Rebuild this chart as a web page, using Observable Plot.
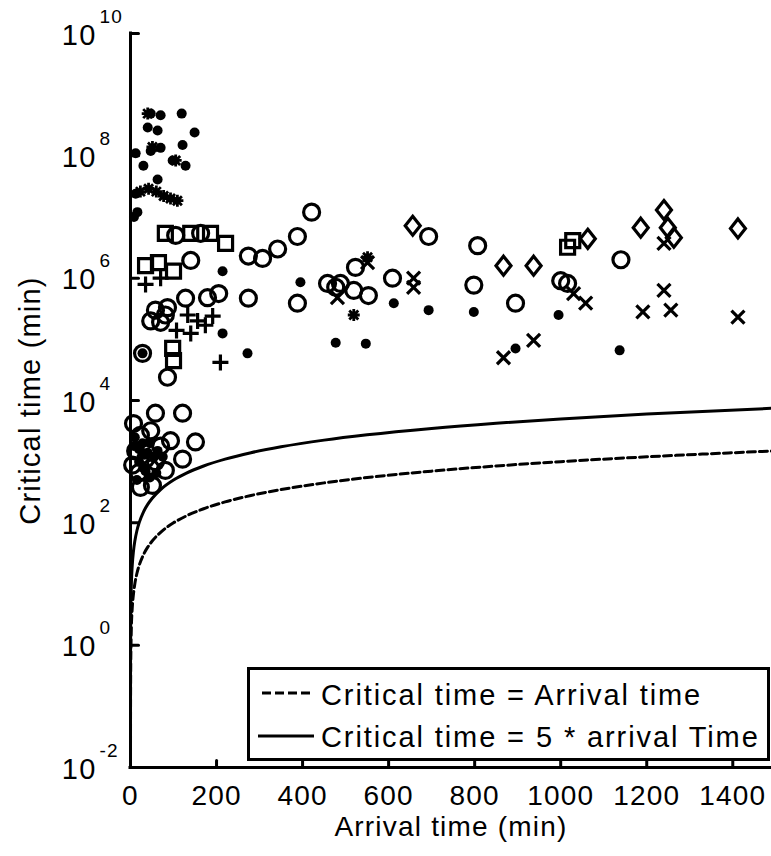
<!DOCTYPE html>
<html><head><meta charset="utf-8">
<script src="https://cdn.jsdelivr.net/npm/d3@7"></script>
<script src="https://cdn.jsdelivr.net/npm/@observablehq/plot@0.6"></script>
<style>
html,body{margin:0;padding:0;background:#fff;overflow:hidden}
#chart{position:relative;width:771px;height:856px}
#chart svg text{letter-spacing:1.2px}
#chart svg g.legend text{letter-spacing:1.9px}
</style></head><body><div id="chart"></div>
<script>
// ---------- data ----------
const xTickValues = [0, 200, 400, 600, 800, 1000, 1200, 1400];
const xTickLabels = ["0", "200", "400", "600", "800", "1000", "1200", "1400"];
const yTickValues = [1e-2, 1e0, 1e2, 1e4, 1e6, 1e8, 1e10];
const yTickBase = ["10", "10", "10", "10", "10", "10", "10"];
const yTickExponents = ["-2", "0", "2", "4", "6", "8", "10"];

const lineArrival = [0.01, 0.1, 0.5, 1, 2, 4, 7, 10, 15, 20, 30, 40, 50, 70, 100, 130, 170, 220, 280, 350, 450, 550, 700, 850, 1000, 1200, 1490];
const critEqual   = [0.01, 0.1, 0.5, 1, 2, 4, 7, 10, 15, 20, 30, 40, 50, 70, 100, 130, 170, 220, 280, 350, 450, 550, 700, 850, 1000, 1200, 1490];
const critFive    = [0.05, 0.5, 2.5, 5, 10, 20, 35, 50, 75, 100, 150, 200, 250, 350, 500, 650, 850, 1100, 1400, 1750, 2250, 2750, 3500, 4250, 5000, 6000, 7450];

const dotX = [47, 70, 119, 40, 63, 149, 121, 47, 70, 12, 30, 98, 128, 63, 16, 12, 8, 214, 214, 272, 395, 477, 547, 612, 693, 798, 895, 995, 1137, 28, 28, 40, 63, 35, 75, 20, 10, 20, 45, 55, 30, 45, 15, 60, 8, 33];
const dotY = [4.9e8, 4.6e8, 4.9e8, 2.9e8, 2.6e8, 2.4e8, 1.5e8, 1.2e8, 1.35e8, 1.1e8, 6.9e7, 8.4e7, 6.9e7, 4.1e7, 1.2e7, 2.4e7, 1.0e7, 1.3e6, 1.25e5, 5.9e4, 8.6e5, 8.8e4, 8.5e4, 3.9e5, 3.0e5, 2.8e5, 7.1e4, 2.5e5, 6.6e4, 5.9e4, 2.0e3, 1.4e3, 1.5e3, 700, 1.2e3, 1.0e3, 2.5e3, 1.6e3, 2.0e3, 1.2e3, 800, 550, 500, 650, 1.8e3, 1.3e3];

const astX = [23, 42, 60, 77, 93, 109, 51, 105, 519, 551, 40];
const astY = [2.6e7, 2.9e7, 2.6e7, 2.2e7, 2.0e7, 1.85e7, 1.4e8, 8.4e7, 2.5e5, 2.2e6, 4.9e8];

const circX = [163, 105, 140, 274, 307, 342, 388, 421, 128, 179, 205, 274, 58, 86, 47, 70, 81, 28, 86, 388, 458, 488, 477, 523, 519, 553, 609, 693, 807, 798, 895, 1000, 1140, 1016, 7, 58, 121, 151, 121, 93, 23, 47, 70, 12, 35, 58, 19, 47, 23, 51, 81, 5];
const circY = [5.4e6, 5.0e6, 1.95e6, 2.3e6, 2.1e6, 3.0e6, 4.8e6, 1.2e7, 4.7e5, 4.8e5, 5.6e5, 4.7e5, 3.0e5, 3.3e5, 2.0e5, 1.9e5, 2.5e5, 5.9e4, 2.4e4, 3.9e5, 8.2e5, 8.2e5, 7.1e5, 1.5e6, 6.3e5, 5.2e5, 1.0e6, 4.8e6, 3.4e6, 7.7e5, 3.9e5, 9.1e5, 2.0e6, 8.2e5, 4.2e3, 6.2e3, 6.2e3, 2.1e3, 1.1e3, 2.2e3, 2.7e3, 3.2e3, 1.8e3, 1.5e3, 1.1e3, 1.0e3, 660, 780, 380, 410, 720, 880];

const sqX = [81, 140, 186, 221, 35, 65, 100, 98, 100, 1016, 1028];
const sqY = [5.4e6, 5.4e6, 5.4e6, 3.7e6, 1.6e6, 1.8e6, 1.3e6, 7.1e4, 4.5e4, 3.2e6, 4.1e6];

const plusX = [35, 209, 133, 156, 174, 191, 140, 107, 70];
const plusY = [7.9e5, 4.2e4, 2.5e5, 2.0e5, 1.7e5, 2.4e5, 1.25e5, 1.4e5, 1.0e6];

const timesX = [481, 658, 658, 867, 937, 1058, 1030, 1191, 1240, 1256, 1412, 1240, 551];
const timesY = [4.8e5, 1.0e6, 7.1e5, 5.0e4, 9.6e4, 3.9e5, 5.6e5, 2.8e5, 6.3e5, 3.0e5, 2.3e5, 3.7e6, 1.8e6];

const diaX = [656, 867, 937, 1063, 1186, 1240, 1249, 1263, 1412];
const diaY = [7.2e6, 1.6e6, 1.6e6, 4.4e6, 6.7e6, 1.3e7, 6.7e6, 4.6e6, 6.5e6];

const legendLabels = ["Critical time = Arrival time", "Critical time = 5 * arrival Time"];
const xLabel = "Arrival time (min)";
const yLabel = "Critical time (min)";

// ---------- chart ----------
const FONT = '"Liberation Sans", Arial, Helvetica, sans-serif';
const pts = (xs, ys) => xs.map((x, i) => ({x, y: ys[i]}));

const squareSym = {draw(c) { c.rect(-7, -7, 14, 14); }};
const diamondSym = {draw(c) { c.moveTo(0, -9.5); c.lineTo(7.5, 0); c.lineTo(0, 9.5); c.lineTo(-7.5, 0); c.closePath(); }};
const plusSym = {draw(c) { c.moveTo(-8, 0); c.lineTo(8, 0); c.moveTo(0, -8); c.lineTo(0, 8); }};
const timesSym = {draw(c) { c.moveTo(-6.5, -6.5); c.lineTo(6.5, 6.5); c.moveTo(-6.5, 6.5); c.lineTo(6.5, -6.5); }};
const astSym = {draw(c) { c.moveTo(-6, 0); c.lineTo(6, 0); c.moveTo(0, -6); c.lineTo(0, 6); c.moveTo(-4.5, -4.5); c.lineTo(4.5, 4.5); c.moveTo(-4.5, 4.5); c.lineTo(4.5, -4.5); }};
const tickShape = {draw(c, l) { c.moveTo(0, 0); c.lineTo(0, -l); }};

const openStyle = {x: "x", y: "y", fill: "none", stroke: "black", strokeWidth: 3.2};

const chart = Plot.plot({
  width: 771, height: 856,
  marginLeft: 130, marginRight: 0, marginTop: 33, marginBottom: 89,
  x: {type: "linear", domain: [0, 1490], axis: null},
  y: {type: "log", domain: [1e-2, 1e10], axis: null},
  style: {fontFamily: FONT, background: "white", color: "black", overflow: "visible"},
  marks: [
    Plot.line(pts(lineArrival, critEqual), {x: "x", y: "y", stroke: "black", strokeWidth: 3, strokeDasharray: "8,4", curve: "monotone-x", clip: true}),
    Plot.line(pts(lineArrival, critFive), {x: "x", y: "y", stroke: "black", strokeWidth: 3, curve: "monotone-x", clip: true}),
    Plot.dot(pts(dotX, dotY), {x: "x", y: "y", r: 5, fill: "black", stroke: "none"}),
    Plot.dot(pts(circX, circY), {...openStyle, symbol: "circle", r: 8}),
    Plot.dot(pts(sqX, sqY), {...openStyle, symbol: squareSym}),
    Plot.dot(pts(diaX, diaY), {...openStyle, symbol: diamondSym}),
    Plot.dot(pts(plusX, plusY), {...openStyle, symbol: plusSym}),
    Plot.dot(pts(timesX, timesY), {...openStyle, symbol: timesSym}),
    Plot.dot(pts(astX, astY), {...openStyle, symbol: astSym, strokeWidth: 2.8}),
    // axes lines
    Plot.ruleX([0], {y1: 1e-2, y2: 1e10, stroke: "black", strokeWidth: 3, strokeLinecap: "square"}),
    Plot.ruleY([1e-2], {x1: 0, x2: 1490, stroke: "black", strokeWidth: 3, strokeLinecap: "square"}),
    // inward ticks
    Plot.vector(yTickValues, {x: () => 0, y: d => d, length: 8, rotate: 90, anchor: "start", shape: tickShape, stroke: "black", strokeWidth: 3}),
    Plot.vector(xTickValues, {x: d => d, y: () => 1e-2, length: 7, rotate: 0, anchor: "start", shape: tickShape, stroke: "black", strokeWidth: 3}),
    // tick labels
    Plot.text(yTickValues.map((v, i) => ({v, t: yTickBase[i]})), {x: () => 0, y: "v", text: "t", textAnchor: "end", lineAnchor: "middle", dx: -34, dy: 2, fontSize: 29}),
    Plot.text(yTickValues.map((v, i) => ({v, t: yTickExponents[i]})), {x: () => 0, y: "v", text: "t", textAnchor: "start", lineAnchor: "middle", dx: -31, dy: -17, fontSize: 19}),
    Plot.text(xTickValues.map((v, i) => ({v, t: xTickLabels[i]})), {x: "v", y: () => 1e-2, text: "t", lineAnchor: "middle", dy: 29, fontSize: 28}),
    // axis labels
    Plot.text([xLabel], {frameAnchor: "bottom", text: d => d, textAnchor: "middle", lineAnchor: "middle", dy: 60, fontSize: 28}),
    Plot.text([yLabel], {frameAnchor: "left", text: d => d, rotate: -90, textAnchor: "middle", lineAnchor: "middle", dx: -100, fontSize: 29})
  ]
});

document.getElementById("chart").appendChild(chart);

// legend (inside the plot, bottom right)
const svg = d3.select(chart);
const lg = svg.append("g").attr("class", "legend").attr("font-family", FONT).attr("font-size", 29).attr("text-anchor", "start");
lg.append("rect").attr("x", 248.5).attr("y", 668.5).attr("width", 520).attr("height", 91)
  .attr("fill", "white").attr("stroke", "black").attr("stroke-width", 3);
lg.append("line").attr("x1", 262).attr("x2", 314).attr("y1", 693).attr("y2", 693)
  .attr("stroke", "black").attr("stroke-width", 3).attr("stroke-dasharray", "9,4");
lg.append("line").attr("x1", 258).attr("x2", 314).attr("y1", 736).attr("y2", 736)
  .attr("stroke", "black").attr("stroke-width", 3);
lg.append("text").attr("x", 321).attr("y", 705).attr("text-anchor", "start").attr("fill", "black").text(legendLabels[0]);
lg.append("text").attr("x", 321).attr("y", 747).attr("text-anchor", "start").attr("fill", "black").text(legendLabels[1]);
</script></body></html>
